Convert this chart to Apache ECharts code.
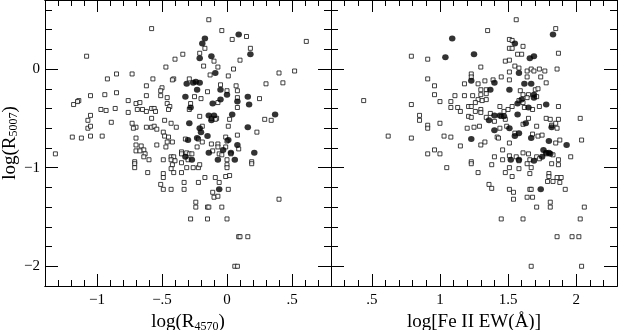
<!DOCTYPE html>
<html>
<head>
<meta charset="utf-8">
<script src="https://cdn.jsdelivr.net/npm/echarts@6/dist/echarts.min.js"></script>
<style>
html, body { margin: 0; padding: 0; background: #fff; }
#chart { width: 618px; height: 330px; }
</style>
</head>
<body>
<div id="chart"></div>
<script>
// left panel: x = log(R4570), y = log(R5007)
const r4570Squares = [[-0.14,0.50],[-0.58,0.41],[-0.04,0.39],[0.15,0.33],[0.04,0.30],[0.61,0.28],[0.18,0.21],[-0.17,0.21],[-0.34,0.15],[-0.21,0.16],[-1.08,0.13],[-0.40,0.10],[0.10,0.09],[-0.10,0.08],[-0.18,0.03],[-0.07,0.02],[-0.47,0.02],[0.05,0.00],[0.52,-0.02],[0.40,-0.04],[-0.13,-0.06],[0.01,-0.07],[-0.85,-0.05],[-0.73,-0.05],[-0.92,-0.10],[-0.57,-0.10],[-0.41,-0.10],[-0.42,-0.11],[-0.29,-0.10],[0.43,-0.14],[0.30,-0.15],[0.07,-0.17],[-0.05,-0.16],[-0.62,-0.17],[-0.50,-0.19],[-0.51,-0.22],[-0.51,-0.27],[-0.46,-0.29],[0.08,-0.22],[0.00,-0.22],[-0.15,-0.23],[-0.85,-0.24],[-1.05,-0.27],[-0.94,-0.26],[0.08,-0.29],[-0.25,-0.28],[-0.20,-0.30],[-1.14,-0.32],[-1.15,-0.33],[0.25,-0.30],[-0.62,-0.27],[-0.76,-0.32],[-0.70,-0.35],[-0.67,-0.34],[-0.46,-0.35],[-1.18,-0.36],[-0.28,-0.35],[0.08,-0.39],[-0.07,-0.34],[-0.69,-0.41],[-0.86,-0.40],[-0.93,-0.42],[-0.97,-0.41],[-0.65,-0.41],[-0.58,-0.40],[-0.56,-0.40],[-0.55,-0.43],[-0.62,-0.43],[-0.76,-0.44],[-0.44,-0.38],[-0.45,-0.41],[-0.29,-0.41],[-0.58,-0.50],[-0.21,-0.48],[-0.08,-0.50],[-0.09,-0.51],[-0.12,-0.50],[0.02,-0.51],[-1.05,-0.47],[0.29,-0.51],[0.34,-0.52],[-0.89,-0.54],[-1.07,-0.52],[-1.07,-0.60],[-1.05,-0.58],[-0.73,-0.55],[-0.48,-0.52],[-0.43,-0.55],[-0.39,-0.59],[-0.70,-0.59],[-0.72,-0.60],[-0.62,-0.59],[-0.58,-0.59],[-0.56,-0.58],[-0.54,-0.61],[-0.19,-0.58],[0.01,-0.58],[0.23,-0.64],[-1.19,-0.69],[-1.12,-0.70],[-1.05,-0.68],[-0.96,-0.68],[-0.49,-0.64],[-0.48,-0.68],[-0.45,-0.69],[-0.70,-0.70],[-0.32,-0.71],[-0.22,-0.71],[-0.19,-0.74],[-0.01,-0.69],[0.08,-0.67],[-0.46,-0.74],[-0.42,-0.74],[-0.12,-0.76],[-0.07,-0.76],[-0.70,-0.77],[-0.66,-0.78],[-0.54,-0.77],[-0.47,-0.79],[-0.64,-0.82],[-0.63,-0.86],[-0.64,-0.89],[-0.60,-0.92],[-0.70,-0.83],[-0.67,-0.83],[-0.35,-0.84],[-0.31,-0.85],[-0.11,-0.83],[-0.01,-0.79],[-0.23,-0.79],[0.00,-0.73],[-0.07,-0.79],[-0.43,-0.89],[-0.41,-0.89],[-0.35,-0.86],[-0.29,-0.86],[-0.27,-0.86],[-0.06,-0.86],[-0.04,-0.87],[0.03,-0.86],[0.09,-0.81],[0.19,-0.94],[0.19,-0.96],[-0.71,-0.94],[-0.71,-0.96],[-0.71,-1.00],[-0.61,-1.05],[-0.49,-0.92],[-0.43,-0.92],[-0.42,-0.97],[-0.43,-1.01],[-0.40,-0.93],[-0.35,-0.95],[-0.30,-0.92],[-0.31,-1.00],[-0.26,-1.00],[-0.22,-1.00],[-0.21,-0.97],[-0.35,-1.05],[0.00,-0.92],[0.00,-0.97],[0.00,-1.00],[-0.49,-1.06],[-0.41,-1.05],[-0.49,-1.10],[-0.33,-1.15],[-0.51,-1.17],[-0.49,-1.22],[-0.43,-1.22],[-0.33,-1.22],[-0.22,-1.15],[-0.17,-1.10],[-0.09,-1.10],[-0.06,-1.15],[-0.01,-1.09],[0.02,-1.08],[-0.11,-1.25],[-0.10,-1.30],[-0.07,-1.29],[0.01,-1.22],[-0.24,-1.35],[-0.24,-1.40],[-0.15,-1.40],[-0.14,-1.40],[-0.04,-1.40],[0.40,-1.32],[-0.28,-1.52],[-0.15,-1.52],[0.00,-1.52],[0.09,-1.70],[0.10,-1.70],[0.16,-1.70],[0.06,-2.00],[0.08,-2.00],[-1.32,-0.86]];
const r4570Dots = [[-0.17,0.31],[-0.19,0.26],[0.09,0.35],[0.18,0.15],[-0.21,0.11],[-0.12,0.13],[-0.09,-0.04],[-0.31,-0.15],[-0.26,-0.14],[-0.24,-0.13],[-0.21,-0.14],[-0.32,-0.28],[-0.23,-0.21],[-0.28,-0.39],[-0.11,-0.35],[-0.05,-0.21],[-0.05,-0.31],[0.00,-0.26],[0.08,-0.33],[0.16,-0.28],[0.17,-0.36],[-0.29,-0.55],[-0.14,-0.47],[-0.10,-0.47],[-0.12,-0.52],[0.04,-0.46],[0.37,-0.46],[0.16,-0.59],[-0.21,-0.60],[-0.20,-0.64],[-0.15,-0.68],[-0.30,-0.72],[-0.23,-0.70],[0.01,-0.72],[0.08,-0.77],[-0.03,-0.82],[-0.14,-0.85],[0.03,-0.85],[0.21,-0.85],[-0.32,-0.89],[-0.27,-0.92],[-0.07,-0.92],[0.06,-0.92],[-0.06,-1.22]];

// right panel: x = log[Fe II EW(A)], same y
const feSquares = [[1.56,0.50],[1.85,0.41],[1.35,0.39],[1.51,0.30],[1.53,0.29],[1.51,0.21],[1.53,0.21],[0.79,0.13],[0.91,0.10],[1.87,0.16],[1.57,0.15],[1.60,0.15],[1.61,0.23],[1.48,0.08],[1.51,0.09],[1.30,0.02],[1.55,0.03],[1.58,0.01],[1.64,-0.02],[1.67,0.00],[1.73,0.00],[1.69,-0.02],[1.77,-0.02],[1.86,0.00],[1.51,-0.03],[1.23,-0.05],[1.23,-0.08],[0.91,-0.10],[0.96,-0.17],[0.96,-0.26],[1.18,-0.15],[1.28,-0.15],[1.33,-0.12],[1.39,-0.11],[1.45,-0.08],[1.51,-0.11],[1.78,-0.14],[1.64,-0.08],[1.74,-0.08],[1.30,-0.21],[1.34,-0.21],[1.34,-0.25],[1.11,-0.27],[1.18,-0.27],[1.24,-0.27],[1.28,-0.31],[1.30,-0.26],[1.00,-0.33],[1.08,-0.33],[1.59,-0.22],[1.61,-0.26],[1.65,-0.26],[1.70,-0.21],[1.71,-0.28],[1.72,-0.20],[0.79,-0.36],[0.85,-0.47],[0.85,-0.52],[1.08,-0.39],[1.13,-0.39],[1.15,-0.43],[1.21,-0.38],[1.23,-0.38],[1.26,-0.34],[1.31,-0.32],[1.34,-0.31],[1.21,-0.48],[1.23,-0.49],[1.26,-0.43],[1.30,-0.41],[1.30,-0.44],[1.37,-0.45],[1.34,-0.49],[1.44,-0.38],[1.47,-0.43],[1.50,-0.41],[1.53,-0.38],[1.58,-0.32],[1.61,-0.34],[1.62,-0.39],[1.64,-0.29],[1.87,-0.38],[1.68,-0.41],[1.73,-0.38],[0.44,-0.32],[1.00,-0.55],[0.91,-0.57],[0.91,-0.60],[1.20,-0.60],[1.25,-0.59],[1.29,-0.58],[1.40,-0.53],[1.45,-0.48],[1.48,-0.51],[1.44,-0.60],[1.49,-0.58],[0.62,-0.68],[0.79,-0.70],[1.03,-0.68],[1.08,-0.69],[1.30,-0.77],[1.33,-0.74],[1.42,-0.69],[1.43,-0.70],[1.51,-0.75],[1.55,-0.65],[1.61,-0.56],[1.65,-0.50],[1.68,-0.66],[1.71,-0.58],[1.72,-0.68],[1.75,-0.67],[1.78,-0.50],[1.82,-0.57],[1.81,-0.51],[1.85,-0.55],[1.87,-0.51],[1.86,-0.60],[1.88,-0.72],[1.85,-0.75],[2.03,-0.50],[2.04,-0.72],[0.91,-0.86],[0.96,-0.82],[1.00,-0.86],[1.15,-0.78],[1.23,-0.94],[1.23,-0.96],[1.05,-1.00],[1.28,-1.05],[1.38,-0.97],[1.40,-0.89],[1.46,-0.82],[1.51,-0.88],[1.56,-0.89],[1.58,-0.93],[1.61,-0.85],[1.65,-0.86],[1.66,-0.92],[1.64,-0.96],[1.67,-1.00],[1.71,-0.89],[1.73,-0.91],[1.78,-0.86],[1.83,-0.87],[1.82,-0.96],[1.87,-0.92],[1.87,-0.97],[1.96,-0.89],[1.46,-0.92],[1.48,-1.05],[1.51,-1.00],[1.53,-1.09],[1.58,-1.01],[1.66,-1.06],[1.79,-1.14],[1.80,-1.06],[1.80,-1.09],[1.83,-1.14],[1.86,-1.10],[1.89,-1.10],[1.88,-1.15],[1.92,-1.22],[1.36,-1.17],[1.38,-1.21],[1.51,-1.22],[1.54,-1.25],[1.54,-1.32],[1.64,-1.30],[1.66,-1.22],[1.67,-1.22],[1.68,-1.30],[1.81,-1.35],[1.81,-1.40],[1.71,-1.40],[2.06,-1.40],[1.45,-1.52],[1.61,-1.52],[2.03,-1.52],[1.86,-1.70],[1.97,-1.70],[2.02,-1.70],[1.67,-2.00],[2.04,-2.00]];
const feDots = [[1.09,0.31],[1.83,0.35],[1.04,0.12],[1.25,0.15],[1.55,0.26],[1.66,0.11],[1.69,0.13],[1.23,-0.12],[1.40,-0.14],[1.37,-0.21],[1.58,-0.04],[1.62,-0.15],[1.67,-0.15],[1.51,-0.21],[1.69,-0.26],[1.69,-0.29],[1.60,-0.31],[1.57,-0.35],[1.65,-0.39],[1.78,-0.36],[1.36,-0.52],[1.44,-0.47],[1.47,-0.48],[1.40,-0.47],[1.57,-0.46],[1.63,-0.55],[1.51,-0.60],[1.40,-0.62],[1.58,-0.65],[1.55,-0.68],[1.82,-0.59],[1.93,-0.77],[1.23,-0.71],[1.67,-0.70],[1.80,-0.73],[1.76,-0.82],[1.78,-0.85],[1.80,-0.85],[1.81,-0.86],[1.75,-0.89],[1.52,-0.92],[1.58,-0.92],[1.69,-0.93],[1.74,-1.22]];

// tick labels
const r4570Ticks = [-1, -0.5, 0, 0.5];
const feTicks = [0.5, 1, 1.5, 2];
const r5007Ticks = [-2, -1, 0];

const FONT = 'Liberation Serif';

function stepTicks(min, max, step) {
  const out = [];
  for (let i = Math.ceil(min / step - 1e-6); i * step <= max + 1e-6; i++) {
    out.push(Math.round(i * step * 100) / 100);
  }
  return out;
}

function fmt(v) {
  if (v === 0) return '0';
  const s = String(Math.abs(v)).replace(/^0\./, '.');
  return (v < 0 ? '\u2212' : '') + s;
}

function nameStyle() {
  return {
    color: '#000', fontFamily: FONT, fontSize: 19,
    rich: {
      a: { color: '#000', fontFamily: FONT, fontSize: 19 },
      s: { color: '#000', fontFamily: FONT, fontSize: 12, padding: [8, 0, 0, 0] }
    }
  };
}

const axisLine = { show: true, onZero: false, lineStyle: { color: '#000', width: 1 } };

function makeXAxes(grid, min, max, majors, name) {
  const minors = stepTicks(min, max, 0.1);
  const base = { type: 'value', gridIndex: grid, min: min, max: max, splitLine: { show: false }, axisLine: axisLine };
  return [
    Object.assign({}, base, {
      position: 'bottom',
      axisTick: { inside: true, length: 12, customValues: majors, lineStyle: { color: '#000' } },
      axisLabel: { customValues: majors, formatter: fmt, color: '#000', fontFamily: FONT, fontSize: 15, margin: 7 },
      name: name, nameLocation: 'middle', nameGap: 20, nameTextStyle: nameStyle()
    }),
    Object.assign({}, base, { position: 'bottom', axisTick: { inside: true, length: 6, customValues: minors, lineStyle: { color: '#000' } }, axisLabel: { show: false } }),
    Object.assign({}, base, { position: 'top', axisTick: { inside: true, length: 12, customValues: majors, lineStyle: { color: '#000' } }, axisLabel: { show: false } }),
    Object.assign({}, base, { position: 'top', axisTick: { inside: true, length: 6, customValues: minors, lineStyle: { color: '#000' } }, axisLabel: { show: false } })
  ];
}

function makeYAxes(grid, withLabels) {
  const min = -2.2, max = 0.7;
  const minors = stepTicks(min, max, 0.2);
  const base = { type: 'value', gridIndex: grid, min: min, max: max, splitLine: { show: false }, axisLine: axisLine };
  const left = Object.assign({}, base, {
    position: 'left',
    axisTick: { inside: true, length: 13, customValues: r5007Ticks, lineStyle: { color: '#000' } },
    axisLabel: withLabels
      ? { customValues: r5007Ticks, formatter: fmt, color: '#000', fontFamily: FONT, fontSize: 15, margin: 5 }
      : { show: false }
  });
  if (withLabels) {
    left.name = '{a|log(R}{s|5007}{a|)}';
    left.nameLocation = 'middle';
    left.nameGap = 25;
    left.nameTextStyle = nameStyle();
  }
  return [
    left,
    Object.assign({}, base, { position: 'left', axisTick: { inside: true, length: 7, customValues: minors, lineStyle: { color: '#000' } }, axisLabel: { show: false } }),
    Object.assign({}, base, { position: 'right', axisTick: { inside: true, length: 13, customValues: r5007Ticks, lineStyle: { color: '#000' } }, axisLabel: { show: false } }),
    Object.assign({}, base, { position: 'right', axisTick: { inside: true, length: 7, customValues: minors, lineStyle: { color: '#000' } }, axisLabel: { show: false } })
  ];
}

const squareStyle = { color: '#fff', borderColor: '#111', borderWidth: 1 };
const dotStyle = { color: '#000' };

const chart = echarts.init(document.getElementById('chart'));
const option = {
  animation: false,
  backgroundColor: '#fff',
  grid: [
    { left: 45, top: 0, width: 286, height: 286, outerBoundsMode: 'none', containLabel: false },
    { left: 331, top: 0, width: 286, height: 286, outerBoundsMode: 'none', containLabel: false }
  ],
  xAxis: makeXAxes(0, -1.4, 0.8, r4570Ticks, '{a|log(R}{s|4570}{a|)}')
    .concat(makeXAxes(1, 0.2, 2.3, feTicks, '{a|log[Fe II EW(\u00c5)]}')),
  yAxis: makeYAxes(0, true).concat(makeYAxes(1, false)),
  series: [
    { type: 'scatter', xAxisIndex: 0, yAxisIndex: 0, data: r4570Squares, symbol: 'rect', symbolSize: 4, itemStyle: squareStyle },
    { type: 'scatter', xAxisIndex: 0, yAxisIndex: 0, data: r4570Dots, symbol: 'circle', symbolSize: [6.5, 6], itemStyle: dotStyle },
    { type: 'scatter', xAxisIndex: 4, yAxisIndex: 4, data: feSquares, symbol: 'rect', symbolSize: 4, itemStyle: squareStyle },
    { type: 'scatter', xAxisIndex: 4, yAxisIndex: 4, data: feDots, symbol: 'circle', symbolSize: [6.5, 6], itemStyle: dotStyle }
  ]
};
chart.setOption(option);
</script>
</body>
</html>
